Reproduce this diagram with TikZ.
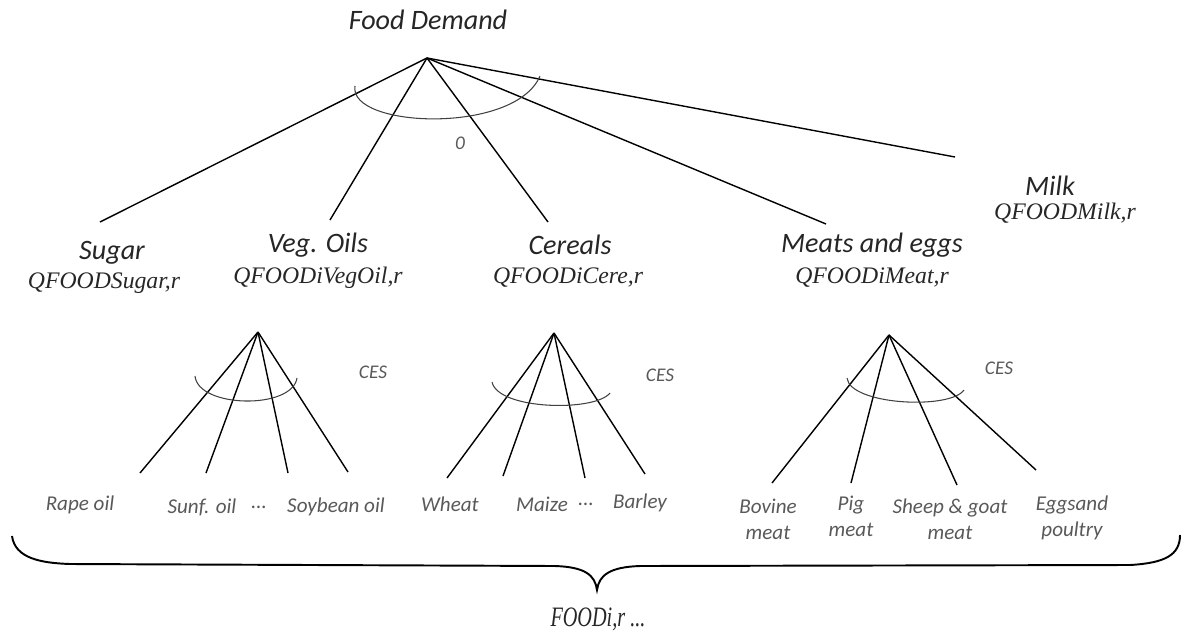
\documentclass[tikz,border=0pt]{standalone}
\usepackage{fontspec}
\setmainfont{Carlito}
\newfontfamily\qfont{Liberation Serif}
\usepackage{tikz}

\tikzset{
  title/.style={font=\itshape\fontsize{16}{18}\selectfont, text=black!85, inner sep=0pt},
  cat/.style={font=\itshape\fontsize{16}{18}\selectfont, text=black!85, inner sep=0pt},
  qname/.style={font=\qfont\itshape\fontsize{13.5}{16}\selectfont, text=black!85, inner sep=0pt},
  item/.style={font=\itshape\fontsize{12}{15}\selectfont, text=black!65, align=center, inner sep=0pt},
  ces/.style={font=\itshape\fontsize{11}{13}\selectfont, text=black!65, inner sep=0pt},
  branch/.style={line width=0.8pt},
  nest/.style={line width=0.6pt, black!75},
}

\begin{document}
\begin{tikzpicture}[x=0.02cm, y=-0.02cm]
  \useasboundingbox (0,0) rectangle (1186,639);

  % top nest
  \node[title] (food) at (428,20) {Food Demand};
  \coordinate (top) at (427,58);
  \coordinate (sugarend) at (100,222);
  \coordinate (vegend) at (330,220);
  \coordinate (cerend) at (548,222);
  \coordinate (meatend) at (826,224);
  \coordinate (milkend) at (955,157);
  \foreach \e in {sugarend,vegend,cerend,meatend,milkend}
    \draw[branch] (top) -- (\e);
  \draw[nest] (355,86) .. controls (348,128) and (515,135) .. (540,76);
  \node[ces] (zero) at (460,143) {0};

  % second level
  \node[cat] (sugar) at (112,253) {Sugar};
  \node[qname] (qsugar) at (104,283) {QFOODSugar,r};
  \node[cat] (veg) at (318,245) {Veg. Oils};
  \node[qname] (qveg) at (318,278) {QFOODiVegOil,r};
  \node[cat] (cer) at (570,245) {Cereals};
  \node[qname] (qcer) at (568,278) {QFOODiCere,r};
  \node[cat] (meat) at (872,245) {Meats and eggs};
  \node[qname] (qmeat) at (872,278) {QFOODiMeat,r};
  \node[cat] (milk) at (1050,186) {Milk};
  \node[qname] (qmilk) at (1065,213) {QFOODMilk,r};

  % veg. oils nest
  \coordinate (vegtop) at (258,332);
  \coordinate (v1) at (140,473);
  \coordinate (v2) at (206,473);
  \coordinate (v3) at (288,473);
  \coordinate (v4) at (348,472);
  \foreach \e in {v1,v2,v3,v4}
    \draw[branch] (vegtop) -- (\e);
  \draw[nest] (195,376) .. controls (198,408) and (292,410) .. (297,378);
  \node[ces] (cesveg) at (373,372) {CES};

  % cereals nest
  \coordinate (certop) at (554,333);
  \coordinate (c1) at (447,478);
  \coordinate (c2) at (503,476);
  \coordinate (c3) at (585,478);
  \coordinate (c4) at (645,474);
  \foreach \e in {c1,c2,c3,c4}
    \draw[branch] (certop) -- (\e);
  \draw[nest] (492,382) .. controls (498,410) and (595,412) .. (610,393);
  \node[ces] (cescer) at (660,375) {CES};

  % meats nest
  \coordinate (meattop) at (889,335);
  \coordinate (m1) at (772,483);
  \coordinate (m2) at (851,483);
  \coordinate (m3) at (957,485);
  \coordinate (m4) at (1036,470);
  \foreach \e in {m1,m2,m3,m4}
    \draw[branch] (meattop) -- (\e);
  \draw[nest] (847,378) .. controls (850,405) and (950,410) .. (964,390);
  \node[ces] (cesmeat) at (999,368) {CES};

  % goods
  \node[item] (rape) at (80,505) {Rape oil};
  \node[item] (sunf) at (202,507) {Sunf. oil};
  \node[item] (vdots) at (259,507) {...};
  \node[item] (soy) at (336,507) {Soybean oil};
  \node[item] (wheat) at (450,504) {Wheat};
  \node[item] (maize) at (542,504) {Maize};
  \node[item] (cdots) at (586,504) {...};
  \node[item] (barley) at (640,503) {Barley};
  \node[item] (bovine) at (768,519) {Bovine\\meat};
  \node[item] (pig) at (851,516) {Pig\\meat};
  \node[item] (sheep) at (950,519) {Sheep \& goat\\meat};
  \node[item] (eggs) at (1072,518) {Eggsand\\poultry};

  % brace
  \draw[line width=1.1pt] (12,536) .. controls (15,558) and (40,563) .. (70,564)
    -- (555,566) .. controls (585,567) and (595,575) .. (597,590)
    .. controls (599,575) and (610,567) .. (640,566)
    -- (1130,565) .. controls (1165,563) and (1180,555) .. (1180,535);
  \node[qname, font=\qfont\itshape\fontsize{16}{18}\selectfont] (foodi) at (598,619)
    {\scalebox{0.72}[1]{FOODi,r ...}};
\end{tikzpicture}
\end{document}
